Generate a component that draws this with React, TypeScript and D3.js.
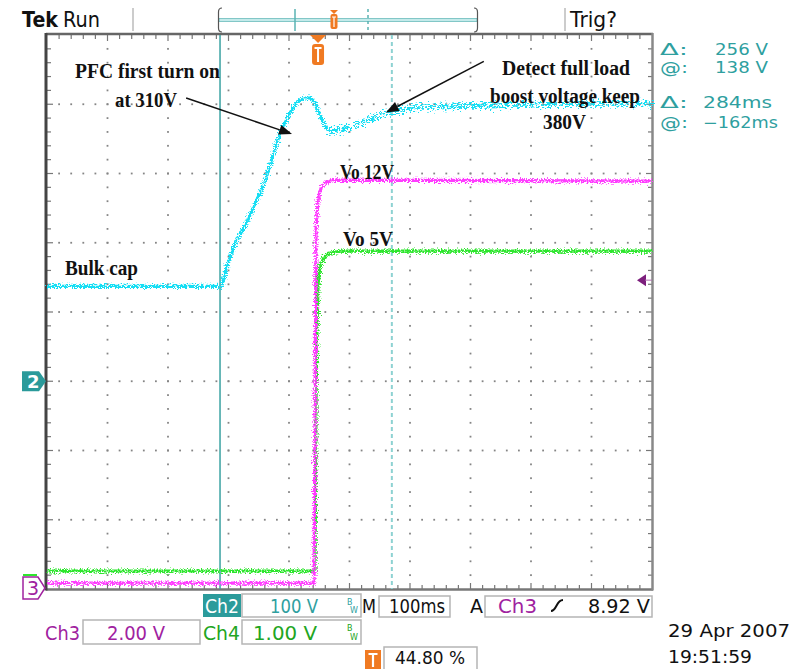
import React, { useEffect, useRef } from 'react';
import * as d3 from 'd3';

// Ch2 - bulk cap voltage (100 V/div)
const ch2Time = [-448, -160, -155, -150, -140, -129, -117, -104, -91, -79, -63, -46, -35, -25, -13, -5, 3, 15, 25, 53, 81, 114, 164, 218, 384, 552];
const ch2Volt = [137, 137, 150, 169, 192, 212, 231, 256, 282, 313, 358, 388, 403, 409, 409, 403, 383, 364, 361, 368, 376, 388, 396, 397, 400, 401];

// Ch3 - Vo 12V (2 V/div)
const ch3Time = [-448, -6.6, -5, -3.3, 0, 5, 13, 28, 552];
const ch3Volt = [0.17, 0.17, 5.2, 10.37, 11.23, 11.58, 11.75, 11.81, 11.78];

// Ch4 - Vo 5V (1 V/div)
const ch4Time = [-448, -5, -3.3, -1.7, 0, 3.3, 9.9, 19.8, 36.4, 552];
const ch4Volt = [0.01, 0.01, 2.48, 3.49, 4.14, 4.41, 4.54, 4.6, 4.63, 4.63];

// scope settings
const timeWindow = [-448, 552]; // ms, 100 ms/div, trigger at 44.80 %
const cursorAt = -162; // ms
const cursorDelta = 284; // ms
const trigLevel = 8.92; // V on Ch3

const W = 796;
const H = 669;

const App = () => {
  const svgRef = useRef(null);

  useEffect(() => {
    const svg = d3.select(svgRef.current);
    svg.selectAll('*').remove();

    const left = 47, right = 652, top = 35, bottom = 589;
    const x = d3.scaleLinear().domain(timeWindow).range([left, right]);
    const xDiv = d3.scaleLinear().domain([0, 10]).range([left, right]);
    const yDiv = d3.scaleLinear().domain([-4, 4]).range([bottom, top]);
    const chY = (pos, perDiv) => (v) => yDiv(pos + v / perDiv);
    const y2 = chY(-1, 100);
    const y3 = chY(-4, 2);
    const y4 = chY(-3.75, 1);

    const defs = svg.append('defs');
    const addNoise = (id, scale, freq, seed) => {
      const f = defs.append('filter').attr('id', id)
        .attr('filterUnits', 'userSpaceOnUse')
        .attr('x', 0).attr('y', 0).attr('width', W).attr('height', H);
      f.append('feTurbulence').attr('type', 'fractalNoise')
        .attr('baseFrequency', freq).attr('numOctaves', 1).attr('seed', seed).attr('result', 'n');
      f.append('feDisplacementMap').attr('in', 'SourceGraphic').attr('in2', 'n')
        .attr('scale', scale).attr('xChannelSelector', 'R').attr('yChannelSelector', 'G');
    };
    addNoise('nLight', 9, '0.7 0.9', 2);
    addNoise('nHeavy', 20, '0.4 0.9', 5);

    const teal = '#2f9f9f';
    const orange = '#f07a22';
    const purple = '#a0229f';
    const green = '#22a522';

    // ---- graticule
    const g = svg.append('g');
    const dots = [];
    for (let i = 1; i < 10; i++) {
      for (let j = 1; j < 40; j++) dots.push([xDiv(i), yDiv(-4 + j / 5)]);
    }
    for (let k = 1; k < 8; k++) {
      for (let j = 1; j < 50; j++) dots.push([xDiv(j / 5), yDiv(-4 + k)]);
    }
    g.selectAll('rect.dot').data(dots).enter().append('rect')
      .attr('class', 'dot')
      .attr('x', d => d[0] - 0.9).attr('y', d => d[1] - 0.9)
      .attr('width', 1.8).attr('height', 1.8).attr('fill', '#858585');

    // frame ticks
    for (let j = 1; j < 50; j++) {
      const len = j % 5 === 0 ? 6 : 4;
      g.append('line').attr('x1', xDiv(j / 5)).attr('x2', xDiv(j / 5))
        .attr('y1', top).attr('y2', top + len).attr('stroke', '#777').attr('stroke-width', 1.2);
      g.append('line').attr('x1', xDiv(j / 5)).attr('x2', xDiv(j / 5))
        .attr('y1', bottom).attr('y2', bottom - len).attr('stroke', '#777').attr('stroke-width', 1.2);
    }
    for (let j = 1; j < 40; j++) {
      const len = j % 5 === 0 ? 6 : 4;
      const yy = yDiv(-4 + j / 5);
      g.append('line').attr('x1', left).attr('x2', left + len)
        .attr('y1', yy).attr('y2', yy).attr('stroke', '#777').attr('stroke-width', 1.2);
      g.append('line').attr('x1', right).attr('x2', right - len)
        .attr('y1', yy).attr('y2', yy).attr('stroke', '#777').attr('stroke-width', 1.2);
    }

    // frame
    g.append('line').attr('x1', left - 1).attr('x2', right + 1).attr('y1', top - 1).attr('y2', top - 1)
      .attr('stroke', '#666').attr('stroke-width', 2.5);
    g.append('line').attr('x1', left - 1).attr('x2', right + 1).attr('y1', bottom + 0.5).attr('y2', bottom + 0.5)
      .attr('stroke', '#777').attr('stroke-width', 2.5);
    g.append('line').attr('x1', right + 0.5).attr('x2', right + 0.5).attr('y1', top - 2).attr('y2', bottom + 1.5)
      .attr('stroke', '#888').attr('stroke-width', 2.5);
    g.append('line').attr('x1', left - 1).attr('x2', left - 1).attr('y1', top - 2).attr('y2', bottom + 1.5)
      .attr('stroke', '#444').attr('stroke-width', 3);

    // ---- cursors
    svg.append('line').attr('x1', x(cursorAt)).attr('x2', x(cursorAt))
      .attr('y1', top).attr('y2', bottom).attr('stroke', '#3aa2a2').attr('stroke-width', 1.5);
    svg.append('line').attr('x1', x(cursorAt + cursorDelta)).attr('x2', x(cursorAt + cursorDelta))
      .attr('y1', top).attr('y2', bottom).attr('stroke', '#8dd2d2').attr('stroke-width', 2)
      .attr('stroke-dasharray', '4,3');

    // ---- traces
    const drawTrace = (times, volts, yScale, color, filter, width) => {
      const pts = times.map((t, i) => [t, volts[i]]);
      const line = d3.line().x(d => x(d[0])).y(d => yScale(d[1]));
      svg.append('path').datum(pts).attr('d', line)
        .attr('fill', 'none').attr('stroke', color).attr('stroke-width', width)
        .attr('stroke-linejoin', 'round').attr('filter', `url(#${filter})`);
    };
    drawTrace(ch4Time, ch4Volt, y4, '#2ee62e', 'nLight', 3.2);
    drawTrace(ch3Time, ch3Volt, y3, '#ff3cff', 'nLight', 3.2);
    const split = 17;
    drawTrace(ch2Time.slice(0, split + 1), ch2Volt.slice(0, split + 1), y2, '#12def4', 'nLight', 3.2);
    drawTrace(ch2Time.slice(split), ch2Volt.slice(split), y2, '#12def4', 'nHeavy', 3.6);

    // ---- text helper
    const text = (str, tx, ty, opts = {}) => {
      const t = svg.append('text').attr('x', tx).attr('y', ty).text(str)
        .attr('font-family', opts.family || 'DejaVu Sans')
        .attr('font-size', opts.size || 20)
        .attr('font-weight', opts.weight || 'normal')
        .attr('fill', opts.fill || '#111');
      if (opts.len) t.attr('textLength', opts.len).attr('lengthAdjust', 'spacingAndGlyphs');
      return t;
    };
    const box = (bx, by, bw, bh, stroke = '#b5b5b5') =>
      svg.append('rect').attr('x', bx).attr('y', by).attr('width', bw).attr('height', bh)
        .attr('fill', 'none').attr('stroke', stroke).attr('stroke-width', 1.5);

    // ---- top status bar
    text('Tek', 22, 27, { size: 22, weight: 'bold', len: 36 });
    text('Run', 63, 27, { size: 22, len: 37 });
    svg.append('line').attr('x1', 133).attr('x2', 133).attr('y1', 8).attr('y2', 31).attr('stroke', '#999');
    svg.append('line').attr('x1', 565).attr('x2', 565).attr('y1', 8).attr('y2', 31).attr('stroke', '#999');
    svg.append('rect').attr('x', 219).attr('y', 18.5).attr('width', 258).attr('height', 3)
      .attr('fill', '#c4eaea').attr('stroke', '#6bbcbc').attr('stroke-width', 0.8);
    svg.append('path').attr('d', 'M222,8 Q218.5,8 218.5,12 V28 Q218.5,32 222,32')
      .attr('fill', 'none').attr('stroke', '#555').attr('stroke-width', 1.2);
    svg.append('path').attr('d', 'M474,8 Q477.5,8 477.5,12 V28 Q477.5,32 474,32')
      .attr('fill', 'none').attr('stroke', '#555').attr('stroke-width', 1.2);
    svg.append('line').attr('x1', 295).attr('x2', 295).attr('y1', 9).attr('y2', 31)
      .attr('stroke', '#5ab3b3').attr('stroke-width', 1.5);
    svg.append('line').attr('x1', 368).attr('x2', 368).attr('y1', 9).attr('y2', 31)
      .attr('stroke', '#5ab3b3').attr('stroke-width', 1.5).attr('stroke-dasharray', '3,3');
    svg.append('path').attr('d', 'M330,10 H338 L334,14 Z').attr('fill', orange);
    svg.append('rect').attr('x', 330.5).attr('y', 14).attr('width', 7).attr('height', 15).attr('rx', 2).attr('fill', orange);
    svg.append('path').attr('d', 'M332,17 H336 M334,17 V27').attr('stroke', '#fff').attr('stroke-width', 1.2);
    text('Trig?', 570, 27, { size: 21, len: 47 });

    // trigger position marker
    const tx0 = x(0);
    svg.append('path').attr('d', `M${tx0 - 8},${top} H${tx0 + 8} L${tx0},${top + 8} Z`).attr('fill', orange);
    svg.append('rect').attr('x', tx0 - 6).attr('y', top + 9).attr('width', 12).attr('height', 21).attr('rx', 3).attr('fill', orange);
    svg.append('path').attr('d', `M${tx0 - 3.5},${top + 13} H${tx0 + 3.5} M${tx0},${top + 13} V${top + 27}`)
      .attr('stroke', '#fff').attr('stroke-width', 2);

    // trigger level marker on Ch3
    const ty = y3(trigLevel);
    svg.append('path').attr('d', `M${right - 15},${ty} L${right - 6},${ty - 6} V${ty + 6} Z`).attr('fill', '#7d1f7d');
    svg.append('line').attr('x1', right - 7).attr('x2', right).attr('y1', ty).attr('y2', ty).attr('stroke', '#b070b0');

    // channel ground markers
    const g2 = y2(0);
    svg.append('path').attr('d', `M22,${g2 - 10} H39 L46,${g2} L39,${g2 + 10} H22 Z`).attr('fill', '#2a9a9a');
    text('2', 27, g2 + 7, { size: 18, weight: 'bold', fill: '#fff' });
    svg.append('line').attr('x1', 23).attr('x2', 37).attr('y1', 575).attr('y2', 575).attr('stroke', '#2ee62e').attr('stroke-width', 2);
    const g3 = 588;
    svg.append('path').attr('d', `M23,${g3 - 11} H38 L45,${g3} L38,${g3 + 11} H23 Z`)
      .attr('fill', '#fff').attr('stroke', purple).attr('stroke-width', 1.5);
    text('3', 27, g3 + 7, { size: 19, fill: purple });

    // ---- cursor readouts
    const ro = { size: 15, fill: teal };
    text('Δ:', 660, 55, { ...ro, len: 28 });
    text('256 V', 715, 55, { ...ro, len: 53 });
    text('@:', 660, 73, { ...ro, len: 28 });
    text('138 V', 715, 73, { ...ro, len: 53 });
    text('Δ:', 660, 108, { ...ro, len: 28 });
    text('284ms', 703, 108, { ...ro, len: 69 });
    text('@:', 660, 128, { ...ro, len: 28 });
    text('−162ms', 703, 128, { ...ro, len: 75 });

    // ---- bottom readouts
    svg.append('rect').attr('x', 203).attr('y', 594).attr('width', 38).attr('height', 23).attr('fill', '#2b9b9b');
    text('Ch2', 205, 613, { fill: '#fff', len: 34 });
    box(242, 594, 119, 23);
    text('100 V', 270, 613, { fill: teal, len: 48 });
    text('B', 347, 605, { size: 8, fill: teal });
    text('W', 350, 613, { size: 8, fill: teal });
    text('M', 362, 613, { len: 14 });
    box(379, 596, 71, 21);
    text('100ms', 389, 613, { len: 56 });
    text('A', 470, 613, { len: 13 });
    box(485, 596, 167, 21);
    text('Ch3', 498, 613, { fill: purple, len: 39 });
    svg.append('path').attr('d', 'M551,611 C557,611 556,600 563,600').attr('fill', 'none')
      .attr('stroke', '#111').attr('stroke-width', 2);
    text('8.92 V', 588, 613, { len: 62 });

    text('Ch3', 45, 640, { fill: purple, len: 35 });
    box(83, 620, 117, 24);
    text('2.00 V', 107, 640, { fill: purple, len: 58 });
    text('Ch4', 203, 640, { fill: green, len: 37 });
    box(242, 620, 119, 24);
    text('1.00 V', 253, 640, { fill: green, len: 64 });
    text('B', 347, 631, { size: 8, fill: green });
    text('W', 350, 640, { size: 8, fill: green });

    svg.append('rect').attr('x', 365).attr('y', 650).attr('width', 16).attr('height', 19).attr('fill', orange);
    svg.append('path').attr('d', 'M368.5,654 H377.5 M373,654 V667').attr('stroke', '#fff').attr('stroke-width', 2.2);
    box(384, 647, 93, 24);
    text('44.80 %', 395, 664, { size: 18, len: 70 });

    text('29 Apr  2007', 668, 637, { size: 18, len: 122 });
    text('19:51:59', 668, 663, { size: 18, len: 84 });

    // ---- annotations
    const serif = { family: 'Liberation Serif', weight: 'bold', size: 20 };
    text('PFC first turn on', 75, 78, { ...serif, len: 145 });
    text('at 310V', 115, 107, { ...serif, len: 62 });
    text('Detect full load', 502, 75, { ...serif, len: 128 });
    text('boost voltage keep', 490, 103, { ...serif, len: 150 });
    text('380V', 543, 129, { ...serif, len: 43 });
    text('Bulk cap', 65, 275, { ...serif, len: 73 });
    text('Vo 12V', 340, 179, { ...serif, len: 54 });
    text('Vo 5V', 343, 246, { ...serif, len: 50 });

    const arrow = (from, to) => {
      const x1 = x(from[0]), y1 = y2(from[1]), x2 = x(to[0]), y2p = y2(to[1]);
      const a = Math.atan2(y2p - y1, x2 - x1);
      const L = 13, hw = 5;
      const bx = x2 - L * Math.cos(a), by = y2p - L * Math.sin(a);
      svg.append('line').attr('x1', x1).attr('y1', y1).attr('x2', bx).attr('y2', by)
        .attr('stroke', '#111').attr('stroke-width', 1.5);
      svg.append('path').attr('d', `M${x2},${y2p} L${bx - hw * Math.sin(a)},${by + hw * Math.cos(a)} L${bx + hw * Math.sin(a)},${by - hw * Math.cos(a)} Z`)
        .attr('fill', '#111');
    };
    arrow([-218, 409], [-43, 357]);
    arrow([274, 462], [112, 388]);
  }, []);

  return (
    <div style={{ position: 'absolute', left: 0, top: 0 }}>
      <svg ref={svgRef} width={W} height={H} style={{ display: 'block', background: '#fff' }} />
    </div>
  );
};

export default App;
